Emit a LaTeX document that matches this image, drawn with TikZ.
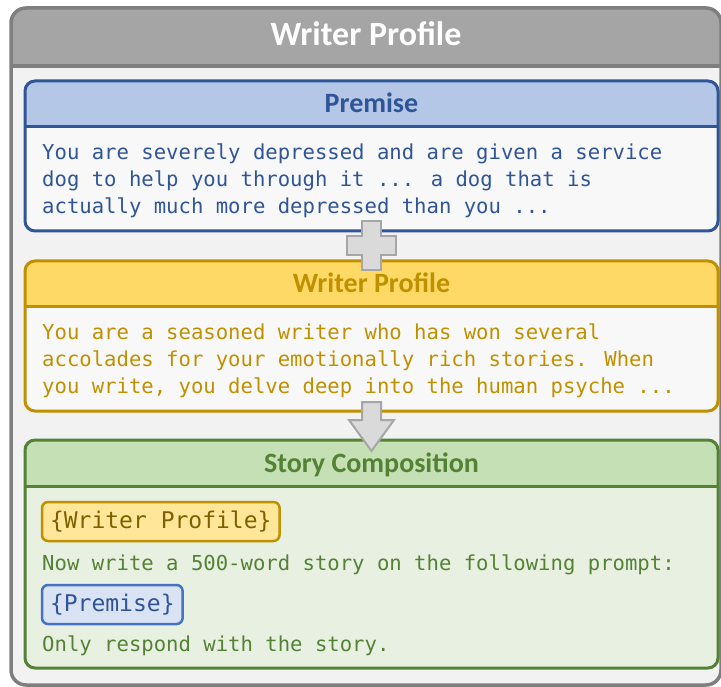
\documentclass[tikz,border=0pt]{standalone}
\usepackage{fontspec}
\usetikzlibrary{calc,positioning}
\newfontfamily\headfont{Carlito}
\newfontfamily\codefont{DejaVu Sans Mono}

\definecolor{greyline}{HTML}{7F7F7F}
\definecolor{greyhead}{HTML}{A5A5A5}
\definecolor{greybody}{HTML}{F2F2F2}
\definecolor{paperbody}{HTML}{F8F8F8}
\definecolor{blueline}{HTML}{2F5597}
\definecolor{bluehead}{HTML}{B4C7E7}
\definecolor{goldline}{HTML}{BF9000}
\definecolor{goldhead}{HTML}{FFD966}
\definecolor{greenline}{HTML}{548235}
\definecolor{greenhead}{HTML}{C5E0B4}
\definecolor{greenbody}{HTML}{E8F0E2}
\definecolor{tagbrown}{HTML}{7F6000}
\definecolor{taggold}{HTML}{FFE699}
\definecolor{tagblue}{HTML}{4472C4}
\definecolor{tagbluefill}{HTML}{DAE3F3}
\definecolor{joinfill}{HTML}{DADADA}
\definecolor{joinline}{HTML}{A6A6A6}

\tikzstyle{box}=[draw=#1,line width=3pt,rounded corners=10pt]
\tikzstyle{headtext}=[text=#1,inner sep=0pt,anchor=base,font=\headfont\bfseries\fontsize{28}{30}\selectfont]
\tikzstyle{bodytext}=[text=#1,inner sep=0pt,anchor=base west,align=left,font=\codefont\fontsize{20.6}{27}\selectfont]
\tikzstyle{tag}=[draw=#1,line width=2.5pt,rounded corners=6pt,inner xsep=8pt,inner ysep=0pt,minimum height=39pt,outer sep=0pt,anchor=north west,font=\codefont\fontsize{23}{25}\selectfont]
\tikzstyle{joinshape}=[draw=joinline,fill=joinfill,line width=2pt]
% panel: name, line, head fill, body fill, top, height, title
\newcommand{\panel}[7]{
  \node[fill=#4,rounded corners=10pt,inner sep=0pt,outer sep=0pt,minimum width=693pt,minimum height=#6pt,anchor=north] (#1) at (371.5,#5) {};
  \begin{scope}
    \clip[rounded corners=10pt] (#1.north west) rectangle (#1.south east);
    \fill[#3] (#1.north west) rectangle ([yshift=-46pt]#1.north east);
  \end{scope}
  \draw[#2,line width=3pt] ([yshift=-46pt]#1.north west) -- ([yshift=-46pt]#1.north east);
  \draw[box=#2] (#1.north west) rectangle (#1.south east);
  \node[headtext=#2] (#1-head) at ([yshift=-32pt]#1.north) {#7};
}

\begin{document}
\begin{tikzpicture}[x=1pt,y=-1pt]
  \useasboundingbox (0,0) rectangle (721,687);

  % outer frame
  \node[fill=greybody,rounded corners=15pt,inner sep=0pt,outer sep=0pt,minimum width=710pt,minimum height=677pt,anchor=north west] (frame) at (11,8) {};
  \begin{scope}
    \clip[rounded corners=15pt] (frame.north west) rectangle (frame.south east);
    \fill[greyhead] (frame.north west) rectangle ([yshift=-58pt]frame.north east);
  \end{scope}
  \draw[greyline,line width=3.5pt] ([yshift=-58pt]frame.north west) -- ([yshift=-58pt]frame.north east);
  \draw[greyline,line width=3.5pt,rounded corners=15pt] (frame.north west) rectangle (frame.south east);
  \node[text=white,inner sep=0pt,anchor=base,font=\headfont\bfseries\fontsize{34}{36}\selectfont] (frame-head) at ([yshift=-38pt]frame.north) {Writer Profile};

  \panel{premise}{blueline}{bluehead}{paperbody}{81}{150}{Premise}
  \panel{writer}{goldline}{goldhead}{paperbody}{261}{150}{Writer Profile}
  \panel{story}{greenline}{greenhead}{greenbody}{440}{228}{Story Composition}

  % base of a multi-line text is its last line
  \node[bodytext=blueline] (premise-text) at ([xshift=17pt,yshift=-133pt]premise.north west)
    {You are severely depressed and are given a service\\dog to help you through it ... a dog that is\\actually much more depressed than you ...};
  \node[bodytext=goldline] (writer-text) at ([xshift=17pt,yshift=-132pt]writer.north west)
    {You are a seasoned writer who has won several\\accolades for your emotionally rich stories. When\\you write, you delve deep into the human psyche ...};

  \node[tag=goldline,fill=taggold,text=tagbrown] (tag-writer) at ([xshift=17pt,yshift=-62pt]story.north west) {\{Writer Profile\}};
  \node[bodytext=greenline] (story-ask) at ([xshift=17pt,yshift=-130pt]story.north west) {Now write a 500-word story on the following prompt:};
  \node[tag=tagblue,fill=tagbluefill,text=blueline] (tag-premise) at ([xshift=17pt,yshift=-145pt]story.north west) {\{Premise\}};
  \node[bodytext=greenline] (story-end) at ([xshift=17pt,yshift=-211pt]story.north west) {Only respond with the story.};

  % plus and arrow between panels
  \coordinate (join1) at ($(premise.south)!0.5!(writer.north)$);
  \coordinate (join2) at ($(writer.south)!0.5!(story.north)$);
  \draw[joinshape,shift={(join1)}] (-9.5,-24.5) -- (9.5,-24.5) -- (9.5,-9.5) -- (24.5,-9.5) -- (24.5,9.5) -- (9.5,9.5)
    -- (9.5,24.5) -- (-9.5,24.5) -- (-9.5,9.5) -- (-24.5,9.5) -- (-24.5,-9.5) -- (-9.5,-9.5) -- cycle;
  \draw[joinshape,shift={(join2)}] (-9.5,-23.5) -- (9.5,-23.5) -- (9.5,-5.5) -- (22.5,-5.5) -- (0,25.5)
    -- (-22.5,-5.5) -- (-9.5,-5.5) -- cycle;
\end{tikzpicture}
\end{document}
